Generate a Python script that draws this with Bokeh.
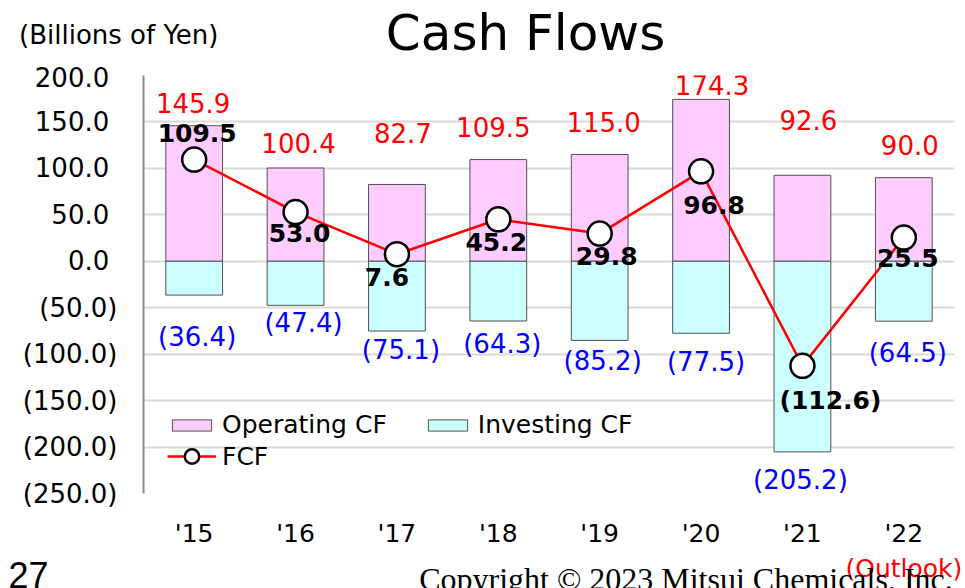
from bokeh.plotting import figure
from bokeh.layouts import column
from bokeh.models import (FactorRange, Range1d, FixedTicker, Label, LabelSet,
                          ColumnDataSource, Legend, LegendItem, LinearAxis)
from bokeh.core.properties import value
from bokeh.embed import file_html
from bokeh.resources import INLINE

# ---------------- data ----------------
years = ["'15", "'16", "'17", "'18", "'19", "'20", "'21", "'22"]
operating_cf = [145.9, 100.4, 82.7, 109.5, 115.0, 174.3, 92.6, 90.0]
investing_cf = [-36.4, -47.4, -75.1, -64.3, -85.2, -77.5, -205.2, -64.5]
fcf = [109.5, 53.0, 7.6, 45.2, 29.8, 96.8, -112.6, 25.5]
y_ticks = [-250, -200, -150, -100, -50, 0, 50, 100, 150, 200]

# label placement (data-unit anchor heights, pixel x nudges)
op_lbl_y = [170.5, 127, 138.5, 145, 150, 190, 152, 125.6]
op_lbl_dx = [-1, 3, 6, -5, 4, 11, 6, 6]
inv_lbl_y = [-81.7, -66, -95, -88.7, -107, -108, -236, -99]
inv_lbl_dx = [3, 8, 4, 4, 3, 5, -2, 4]
fcf_lbl_y = [138.5, 30.8, -16.4, 20.6, 5.6, 60.7, -149.8, 4]
fcf_lbl_dx = [3, 4, -10, -2, 7, 13, 28, 4]


def fmt(v):
    return f"({abs(v):.1f})" if v < 0 else f"{v:.1f}"


FONT = "DejaVu Sans"
W = 965
FL, FR = 143, 955   # plot-frame left / right edge in page pixels


def text_axis(fig, side, pos, text, font, size, standoff, color="black"):
    """an axis that only carries one free text (outside the frame)"""
    ax = LinearAxis(ticker=FixedTicker(ticks=[pos]),
                    major_label_overrides={pos: text},
                    axis_line_color=None, major_tick_line_color=None,
                    minor_tick_line_color=None, major_tick_out=0, major_tick_in=0,
                    major_label_standoff=standoff, major_label_text_font=font,
                    major_label_text_font_size=size, major_label_text_color=color)
    fig.add_layout(ax, side)


def blank_fig(h, y0, y1):
    f = figure(width=W, height=h, output_backend="svg", toolbar_location=None,
               x_range=Range1d(FL, FR), y_range=Range1d(y0, y1),
               x_axis_location=None, y_axis_location=None, min_border=0)
    f.outline_line_color = None
    f.grid.visible = False
    return f


# ---------------- header (page rows 0..62) ----------------
head = blank_fig(62, 62, 0)
head.add_layout(Label(x=525.5, y=32.5, text="Cash Flows", text_align="center",
                      text_baseline="middle", text_font=FONT,
                      text_font_size="50px", text_color="black"))
text_axis(head, "left", 34, "(Billions of Yen)", FONT, "26px", -75)

# ---------------- main chart (page rows 62..550) ----------------
p = figure(width=W, height=488, output_backend="svg", toolbar_location=None,
           x_range=FactorRange(factors=years, range_padding=0),
           y_range=Range1d(-250, 200),
           min_border_left=FL, min_border_right=W - FR, min_border_top=13,
           min_border_bottom=55, title=None)
p.outline_line_color = None
p.background_fill_color = "white"
p.border_fill_color = "white"

p.xgrid.grid_line_color = None
p.ygrid.ticker = FixedTicker(ticks=y_ticks)
p.ygrid.grid_line_color = "#d9d9d9"
p.ygrid.grid_line_width = 2

yax = p.yaxis[0]
yax.ticker = FixedTicker(ticks=y_ticks)
yax.major_label_overrides = {t: (fmt(t) if t < 0 else f"{t:.1f}\u00a0") for t in y_ticks}
yax.major_tick_line_color = None
yax.major_tick_out = 0
yax.major_tick_in = 0
yax.minor_tick_line_color = None
yax.axis_line_color = "#8c8c8c"
yax.axis_line_width = 2
yax.major_label_standoff = 26
yax.major_label_text_font = FONT
yax.major_label_text_font_size = "26px"
yax.major_label_text_color = "black"

xax = p.xaxis[0]
xax.axis_line_color = None
xax.major_tick_line_color = None
xax.major_tick_out = 0
xax.major_tick_in = 0
xax.minor_tick_line_color = None
xax.major_label_standoff = 25
xax.major_label_text_font = FONT
xax.major_label_text_font_size = "25px"
xax.major_label_text_color = "black"

src = ColumnDataSource(dict(
    x=years, op=operating_cf, inv=investing_cf, fcf=fcf,
    op_t=[fmt(v) for v in operating_cf], inv_t=[fmt(v) for v in investing_cf],
    fcf_t=[fmt(v) for v in fcf],
    op_y=op_lbl_y, op_dx=op_lbl_dx, inv_y=inv_lbl_y, inv_dx=inv_lbl_dx,
    fcf_y=fcf_lbl_y, fcf_dx=fcf_lbl_dx,
))

op_r = p.vbar(x="x", top="op", bottom=0, width=0.56, source=src,
              fill_color="#ffccff", line_color="#505050", line_width=1)
inv_r = p.vbar(x="x", top=0, bottom="inv", width=0.56, source=src,
               fill_color="#ccffff", line_color="#505050", line_width=1)
line_r = p.line(x="x", y="fcf", source=src, line_color="#ff0000", line_width=2.5)
pt_r = p.scatter(x="x", y="fcf", source=src, marker="circle", size=24,
                 fill_color="white", line_color="black", line_width=2.5)

p.add_layout(LabelSet(x="x", y="op_y", text="op_t", x_offset="op_dx", source=src,
                      text_align="center", text_baseline="middle",
                      text_font=value(FONT), text_font_size="26px", text_color="#ff0000"))
p.add_layout(LabelSet(x="x", y="inv_y", text="inv_t", x_offset="inv_dx", source=src,
                      text_align="center", text_baseline="middle",
                      text_font=value(FONT), text_font_size="26px", text_color="#0000ff"))
p.add_layout(LabelSet(x="x", y="fcf_y", text="fcf_t", x_offset="fcf_dx", source=src,
                      text_align="center", text_baseline="middle",
                      text_font=value(FONT), text_font_size="25px", text_font_style="bold",
                      text_color="black"))

leg1 = Legend(items=[LegendItem(label="Operating CF", renderers=[op_r]),
                     LegendItem(label="Investing CF", renderers=[inv_r])],
              orientation="horizontal", location=(24, 54),
              glyph_width=49, glyph_height=14, label_standoff=6, spacing=36,
              padding=0, margin=0, border_line_color=None, background_fill_alpha=0,
              label_text_font=FONT, label_text_font_size="25px", label_text_color="black")
leg2 = Legend(items=[LegendItem(label="FCF", renderers=[line_r, pt_r])],
              orientation="horizontal", location=(24, 19),
              glyph_width=49, glyph_height=36, label_standoff=6, spacing=0,
              padding=0, margin=0, border_line_color=None, background_fill_alpha=0,
              label_text_font=FONT, label_text_font_size="25px", label_text_color="black")
p.add_layout(leg1)
p.add_layout(leg2)

# ---------------- footer (page rows 550..588) ----------------
foot = blank_fig(38, 588, 550)
foot.add_layout(Label(x=419, y=578.2, text="Copyright \u00a9 2023 Mitsui Chemicals, Inc.",
                      text_align="left", text_baseline="middle",
                      text_font="Liberation Serif", text_font_size="32px",
                      text_color="black"))
text_axis(foot, "left", 575.5, "27", "Liberation Sans", "36px", 95)
text_axis(foot, "right", 561.4, "(Outlook)", FONT, "25px", -109, color="#ff0000")

layout = column(head, p, foot, spacing=0)
open("out.html", "w").write(file_html(layout, INLINE))
